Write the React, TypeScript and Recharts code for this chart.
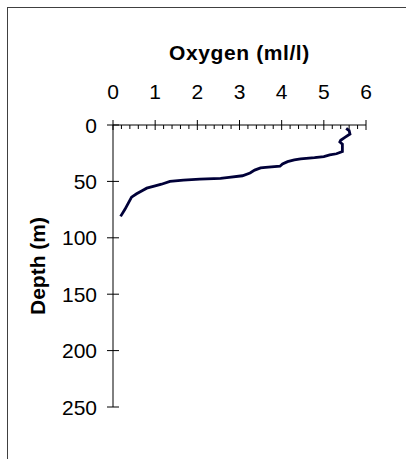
import React from 'react';
import { LineChart, Line, XAxis, YAxis } from 'recharts';

const depthM = [3, 5, 8, 11, 13.5, 15, 17, 20, 23.5, 25.5, 26.5, 28, 29, 30, 31, 32.5, 34.5, 36.5, 37.5, 38, 40, 42.5, 45, 46.5, 47.3, 48, 48.8, 50, 52.5, 54, 56, 58, 61, 64, 69.5, 75, 81];
const oxygenMl = [5.53, 5.6, 5.62, 5.5, 5.4, 5.38, 5.44, 5.44, 5.44, 5.3, 5.14, 5.0, 4.78, 4.45, 4.3, 4.14, 4.02, 3.96, 3.62, 3.5, 3.36, 3.25, 3.07, 2.75, 2.55, 2.06, 1.67, 1.35, 1.15, 1.0, 0.8, 0.7, 0.56, 0.44, 0.36, 0.28, 0.18];

const oxygenTicks = [0, 0.2, 0.4, 0.6, 0.8, 1, 1.2, 1.4, 1.6, 1.8, 2, 2.2, 2.4, 2.6, 2.8, 3, 3.2, 3.4, 3.6, 3.8, 4, 4.2, 4.4, 4.6, 4.8, 5, 5.2, 5.4, 5.6, 5.8, 6];
const depthTicks = [0, 50, 100, 150, 200, 250];

const data = depthM.map((d, i) => ({ depth: d, oxygen: oxygenMl[i] }));

const FONT = '"Liberation Sans", Arial, sans-serif';
const TICK_FS = 21;
const TITLE_FS = 21;

const XTick = (props: any) => {
  const { x, y, payload } = props;
  const v = payload.value as number;
  const major = Math.abs(v - Math.round(v)) < 1e-6;
  if (major) {
    return (
      <g>
        <line x1={x} x2={x} y1={y - 5} y2={y + 5} stroke="#000" strokeWidth={1} />
        <text x={x} y={y - 34} textAnchor="middle" dominantBaseline="central" fontFamily={FONT} fontSize={TICK_FS} fill="#000">
          {Math.round(v)}
        </text>
      </g>
    );
  }
  return <line x1={x} x2={x} y1={y} y2={y + 4} stroke="#000" strokeWidth={1} />;
};

const YTick = (props: any) => {
  const { x, y, payload } = props;
  return (
    <g>
      <line x1={x - 6} x2={x + 6} y1={y} y2={y} stroke="#000" strokeWidth={1} />
      <text x={x - 16} y={y} textAnchor="end" dominantBaseline="central" fontFamily={FONT} fontSize={TICK_FS} fill="#000">
        {payload.value}
      </text>
    </g>
  );
};

const TitleLabel = (props: any) => {
  const vb = props.viewBox || {};
  return (
    <text x={vb.x + vb.width / 2} y={44} textAnchor="middle" dominantBaseline="central" fontFamily={FONT} fontSize={TITLE_FS} fontWeight="bold" letterSpacing={0.6} fill="#000">
      Oxygen (ml/l)
    </text>
  );
};

const DepthLabel = (props: any) => {
  const vb = props.viewBox || {};
  const cx = 29;
  const cy = vb.y + vb.height / 2;
  return (
    <text x={cx} y={cy} transform={`rotate(-90 ${cx} ${cy})`} textAnchor="middle" dominantBaseline="central" fontFamily={FONT} fontSize={TITLE_FS} fontWeight="bold" fill="#000">
      Depth (m)
    </text>
  );
};

export default function App() {
  return (
    <div style={{ position: 'fixed', left: 7, top: 7, width: 399, height: 452, borderTop: '1px solid #404040', borderLeft: '1px solid #404040', background: '#fff', overflow: 'hidden' }}>
      <LineChart width={398} height={451} data={data} margin={{ top: 0, right: 40, left: 0, bottom: 52 }}>
        <XAxis
          xAxisId={0}
          orientation="top"
          type="number"
          dataKey="oxygen"
          domain={[0, 6]}
          ticks={oxygenTicks}
          interval={0}
          height={117}
          tickSize={0}
          tickMargin={0}
          tickLine={false}
          axisLine={{ stroke: '#000', strokeWidth: 1 }}
          tick={<XTick />}
          label={{ content: <TitleLabel /> }}
          allowDataOverflow
        />
        <YAxis
          yAxisId={0}
          type="number"
          domain={[0, 250]}
          reversed
          ticks={depthTicks}
          interval={0}
          width={105}
          tickSize={0}
          tickMargin={0}
          tickLine={false}
          axisLine={{ stroke: '#000', strokeWidth: 1 }}
          tick={<YTick />}
          label={{ content: <DepthLabel /> }}
          allowDataOverflow
        />
        <Line
          type="linear"
          dataKey="depth"
          stroke="#000038"
          strokeWidth={2.8}
          dot={false}
          isAnimationActive={false}
        />
      </LineChart>
    </div>
  );
}
